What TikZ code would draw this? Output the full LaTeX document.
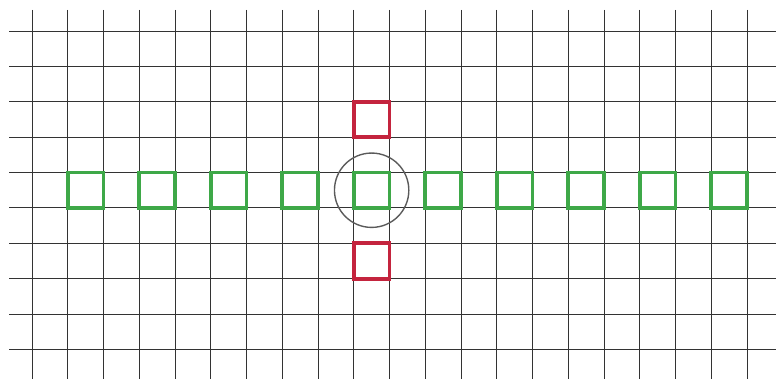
\documentclass[tikz,border=0pt]{standalone}
\usetikzlibrary{positioning}
\definecolor{leaf}{RGB}{62,168,72}
\definecolor{crimson}{RGB}{196,36,62}
\definecolor{pencil}{RGB}{90,90,90}
\tikzset{
  gridline/.style={draw=black!80,line width=0.7pt},
  cell/.style={draw=#1,line width=3pt,inner sep=0pt,
    minimum width=1cm,minimum height=0.989cm},
  cell/.default=leaf,
}
\begin{document}
\begin{tikzpicture}[x=1cm,y=0.989cm]
  \useasboundingbox[fill=white] (-0.895,0.88) rectangle (20.81,-9.85);
  % paper grid
  \foreach \i in {0,...,20}
    \draw[gridline] (\i,0.6) -- (\i,-9.85);
  \foreach \j in {0,...,9}
    \draw[gridline] (-0.64,-\j) -- (20.81,-\j);
  % green row
  \foreach \k [count=\n] in {1.5,3.5,...,19.5}
    \node[cell] (g\n) at (\k,-4.5) {};
  % red cells above and below the centre
  \node[cell=crimson] (top) at (9.5,-2.5) {};
  \node[cell=crimson] (bottom) at (9.5,-6.5) {};
  % ring round the centre cell
  \draw[pencil,line width=1.1pt] (g5) circle (1.04cm);
\end{tikzpicture}
\end{document}
